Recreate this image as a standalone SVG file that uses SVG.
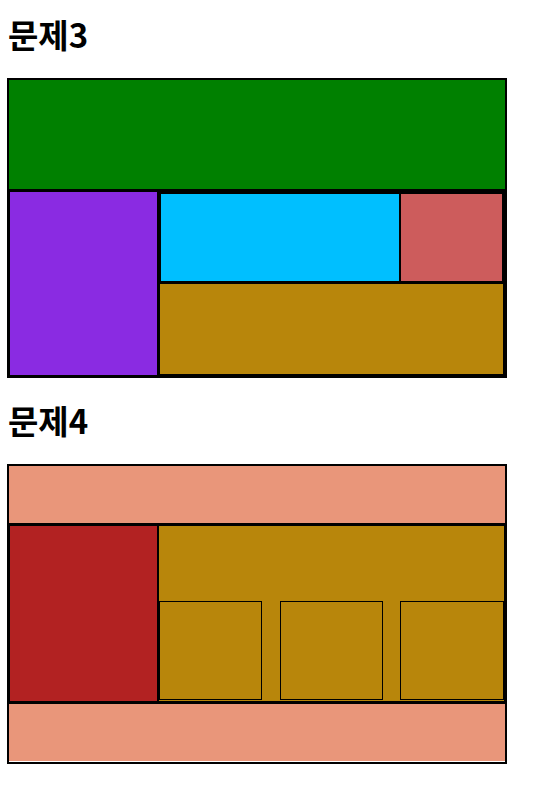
<svg xmlns="http://www.w3.org/2000/svg" width="559" height="788" viewBox="0 0 559 788">
<style>
  .h { font-family: "Noto Sans CJK KR", "Noto Sans", sans-serif; font-weight: bold; font-size: 33px; fill: #000; }
  .frame { fill: #000; }
  .green { fill: #008000; }
  .purple { fill: #8A2BE2; }
  .cyan { fill: #00BFFF; }
  .indian { fill: #CD5C5C; }
  .gold { fill: #B8860B; }
  .salmon { fill: #E9967A; }
  .fire { fill: #B22222; }
  .box { fill: #B8860B; stroke: #000; stroke-width: 1; }
</style>
<rect width="559" height="788" fill="#fff"/>

<g id="title3"><text class="h" x="8" y="48">문제3</text></g>
<g id="problem3">
  <rect class="frame" x="7" y="78" width="500" height="300"/>
  <g id="p3-header"><rect class="green" x="9" y="80" width="496" height="109"/></g>
  <g id="p3-left"><rect class="purple" x="10" y="192" width="147" height="183"/></g>
  <g id="p3-cyan"><rect class="cyan" x="161" y="194" width="238" height="87"/></g>
  <g id="p3-red"><rect class="indian" x="401" y="194" width="101" height="87"/></g>
  <g id="p3-bottom"><rect class="gold" x="160" y="284" width="343" height="90"/></g>
</g>

<g id="title4"><text class="h" x="8" y="434">문제4</text></g>
<g id="problem4">
  <rect class="frame" x="7" y="464" width="500" height="300"/>
  <rect x="9" y="761" width="496" height="1" fill="#fff"/>
  <g id="p4-header"><rect class="salmon" x="9" y="466" width="496" height="57"/></g>
  <g id="p4-left"><rect class="fire" x="10" y="526" width="147" height="175"/></g>
  <g id="p4-main"><rect class="gold" x="159" y="526" width="345" height="175"/></g>
  <g id="p4-box1"><rect class="box" x="159.5" y="601.5" width="102" height="98"/></g>
  <g id="p4-box2"><rect class="box" x="280.5" y="601.5" width="102" height="98"/></g>
  <g id="p4-box3"><rect class="box" x="400.5" y="601.5" width="103" height="98"/></g>
  <g id="p4-footer"><rect class="salmon" x="9" y="704" width="496" height="57"/></g>
</g>
<g id="connectors"></g>
</svg>
